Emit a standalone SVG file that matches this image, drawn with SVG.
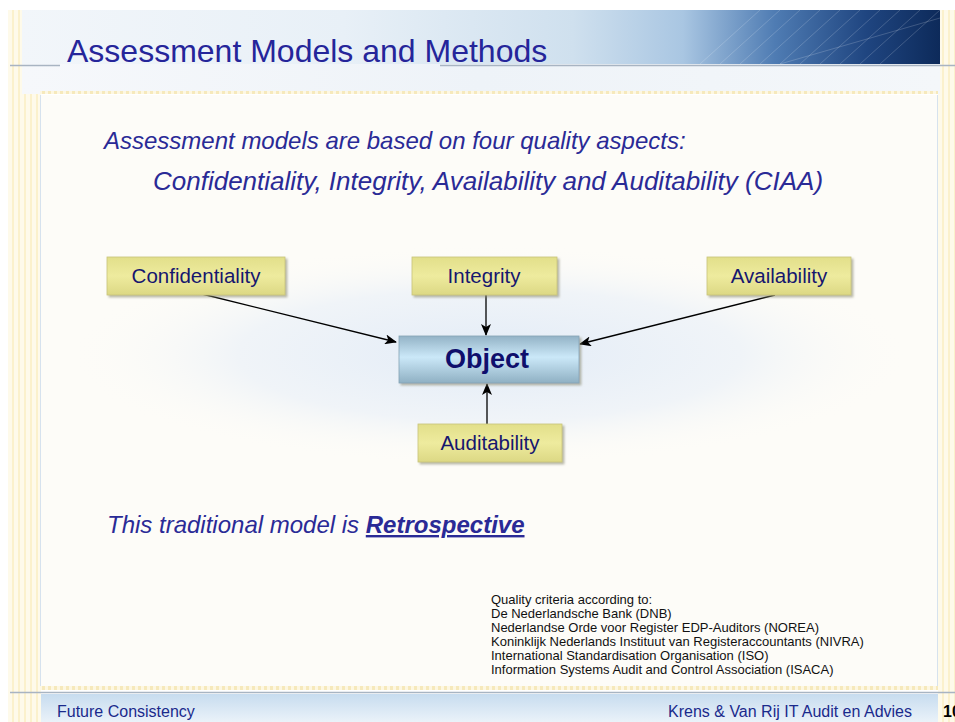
<svg xmlns="http://www.w3.org/2000/svg" width="955" height="722" viewBox="0 0 955 722">
<defs>
<linearGradient id="hdr" x1="0" y1="0" x2="1" y2="0">
<stop offset="0" stop-color="#f2f6fa"/>
<stop offset="0.35" stop-color="#e8f0f7"/>
<stop offset="0.6" stop-color="#cfe0ee"/>
<stop offset="0.72" stop-color="#a9c6e2"/>
<stop offset="0.82" stop-color="#4f7cb3"/>
<stop offset="0.92" stop-color="#1f4580"/>
<stop offset="1" stop-color="#0d2a5a"/>
</linearGradient>
<linearGradient id="hdr2" x1="0" y1="0" x2="1" y2="0">
<stop offset="0" stop-color="#f6f8fb"/>
<stop offset="0.5" stop-color="#eef3f8"/>
<stop offset="1" stop-color="#f4f7fa"/>
</linearGradient>
<linearGradient id="ftr" x1="0" y1="0" x2="0" y2="1">
<stop offset="0" stop-color="#c7dcef"/>
<stop offset="1" stop-color="#eaf2f9"/>
</linearGradient>
<linearGradient id="khaki" x1="0" y1="0" x2="0" y2="1">
<stop offset="0" stop-color="#e2df8a"/>
<stop offset="0.5" stop-color="#eeeb9e"/>
<stop offset="1" stop-color="#dcd884"/>
</linearGradient>
<linearGradient id="obj" x1="0" y1="0" x2="0" y2="1">
<stop offset="0" stop-color="#93b3c6"/>
<stop offset="0.45" stop-color="#cbe8f8"/>
<stop offset="1" stop-color="#8fb0c3"/>
</linearGradient>
<radialGradient id="glow" cx="0.5" cy="0.5" r="0.5">
<stop offset="0" stop-color="#e3ecf7"/>
<stop offset="0.6" stop-color="#f0f4f8"/>
<stop offset="1" stop-color="#fdfcf8" stop-opacity="0"/>
</radialGradient>
<pattern id="stripes" width="6" height="10" patternUnits="userSpaceOnUse">
<rect width="6" height="10" fill="#fefaea"/>
<rect width="2" height="10" fill="#fbf1cc"/>
</pattern>
<pattern id="dash" width="6" height="4" patternUnits="userSpaceOnUse">
<rect width="6" height="4" fill="#fdf7e2"/>
<rect width="3" height="4" fill="#f6e9bc"/>
</pattern>
<marker id="arr" viewBox="0 0 12 10" refX="11" refY="5" markerWidth="12" markerHeight="10" markerUnits="userSpaceOnUse" orient="auto">
<path d="M0,0 L12,5 L0,10 L3,5 Z" fill="#000"/>
</marker>
<filter id="sh" x="-10%" y="-10%" width="130%" height="140%">
<feDropShadow dx="2" dy="2" stdDeviation="0.8" flood-color="#8a8a70" flood-opacity="0.6"/>
</filter>
</defs>
<style>
.lbl{font-family:"Liberation Sans",Arial,sans-serif;font-size:20.5px;fill:#16166e;text-anchor:middle}
.it{font-family:"Liberation Sans",Arial,sans-serif;font-style:italic;fill:#2a2a96}
.small{font-family:"Liberation Sans",Arial,sans-serif;font-size:13px;fill:#111}
.foot{font-family:"Liberation Sans",Arial,sans-serif;font-size:16px;fill:#1a2a8c}
.conn{stroke:#000;stroke-width:1.3;fill:none;marker-end:url(#arr)}
</style>
<rect width="955" height="722" fill="#ffffff"/>
<!-- side stripes -->
<rect x="8" y="10" width="33" height="712" fill="url(#stripes)"/>
<rect x="938" y="10" width="17" height="712" fill="url(#stripes)"/>
<!-- content area -->
<rect x="40" y="95" width="898" height="592" fill="#fdfcf8"/>
<line x1="40.5" y1="95" x2="40.5" y2="687" stroke="#d6e2ee" stroke-width="1"/>
<line x1="937.5" y1="95" x2="937.5" y2="687" stroke="#d6e2ee" stroke-width="1"/>
<ellipse cx="490" cy="355" rx="420" ry="110" fill="url(#glow)"/>
<!-- header -->
<rect x="22" y="10" width="918" height="54" fill="url(#hdr)"/>
<g stroke="#ffffff" stroke-opacity="0.18" stroke-width="1">
<line x1="700" y1="64" x2="760" y2="10"/><line x1="720" y1="64" x2="780" y2="10"/>
<line x1="740" y1="64" x2="800" y2="10"/><line x1="760" y1="64" x2="820" y2="10"/>
<line x1="780" y1="64" x2="840" y2="10"/><line x1="800" y1="64" x2="860" y2="10"/>
<line x1="820" y1="64" x2="880" y2="10"/><line x1="840" y1="64" x2="900" y2="10"/>
<line x1="860" y1="64" x2="920" y2="10"/><line x1="880" y1="64" x2="940" y2="10"/>
<line x1="780" y1="64" x2="940" y2="18"/>
</g>
<rect x="22" y="64" width="918" height="30" fill="url(#hdr2)"/>
<line x1="10" y1="65.5" x2="60" y2="65.5" stroke="#a8b4c2" stroke-width="1.5"/>
<line x1="440" y1="65.5" x2="955" y2="65.5" stroke="#a8b4c2" stroke-width="1.5"/>
<rect x="40" y="91" width="898" height="3" fill="url(#dash)"/>
<text x="67" y="62" font-family="'Liberation Sans',Arial,sans-serif" font-size="32" fill="#25259a">Assessment Models and Methods</text>
<!-- intro text -->
<text class="it" x="104" y="149" font-size="24">Assessment models are based on four quality aspects:</text>
<text class="it" x="153" y="190" font-size="26">Confidentiality, Integrity, Availability and Auditability (CIAA)</text>
<!-- connectors -->
<g id="connectors">
<line class="conn" x1="202" y1="294" x2="396" y2="342"/>
<line class="conn" x1="486" y1="294" x2="486" y2="335"/>
<line class="conn" x1="775" y1="295" x2="580" y2="344"/>
<line class="conn" x1="487" y1="424" x2="487" y2="384"/>
</g>
<!-- nodes -->
<g id="confidentiality">
<rect x="107" y="257" width="178" height="38" fill="url(#khaki)" stroke="#c8c47a" stroke-width="0.8" filter="url(#sh)"/>
<text class="lbl" x="196" y="283">Confidentiality</text>
</g>
<g id="integrity">
<rect x="412" y="257" width="145" height="38" fill="url(#khaki)" stroke="#c8c47a" stroke-width="0.8" filter="url(#sh)"/>
<text class="lbl" x="484" y="283">Integrity</text>
</g>
<g id="availability">
<rect x="707" y="257" width="144" height="38" fill="url(#khaki)" stroke="#c8c47a" stroke-width="0.8" filter="url(#sh)"/>
<text class="lbl" x="779" y="283">Availability</text>
</g>
<g id="object">
<rect x="399" y="336" width="180" height="47" fill="url(#obj)" stroke="#86a4b6" stroke-width="0.8" filter="url(#sh)"/>
<text x="487" y="368" font-family="'Liberation Sans',Arial,sans-serif" font-size="27" font-weight="bold" fill="#0f0f6c" text-anchor="middle">Object</text>
</g>
<g id="auditability">
<rect x="418" y="424" width="144" height="38" fill="url(#khaki)" stroke="#c8c47a" stroke-width="0.8" filter="url(#sh)"/>
<text class="lbl" x="490" y="450">Auditability</text>
</g>
<!-- retrospective -->
<text class="it" x="107" y="533" font-size="24">This traditional model is <tspan font-weight="bold" text-decoration="underline">Retrospective</tspan></text>
<!-- criteria -->
<g class="small">
<text x="491" y="604">Quality criteria  according to:</text>
<text x="491" y="618">De Nederlandsche Bank (DNB)</text>
<text x="491" y="632">Nederlandse Orde voor Register EDP-Auditors (NOREA)</text>
<text x="491" y="646">Koninklijk Nederlands Instituut van Registeraccountants (NIVRA)</text>
<text x="491" y="660">International Standardisation Organisation (ISO)</text>
<text x="491" y="674">Information Systems Audit and Control Association (ISACA)</text>
</g>
<!-- footer -->
<rect x="40" y="686" width="898" height="4" fill="url(#dash)"/>
<line x1="10" y1="692.5" x2="955" y2="692.5" stroke="#a8b4c2" stroke-width="1.5"/>
<rect x="41" y="694" width="897" height="28" fill="url(#ftr)"/>
<text class="foot" x="57" y="717">Future Consistency</text>
<text class="foot" x="912" y="717" text-anchor="end">Krens &amp; Van Rij  IT Audit en Advies</text>
<text x="943" y="717" font-family="'Liberation Sans',Arial,sans-serif" font-size="16" font-weight="bold" fill="#000">10</text>
</svg>
